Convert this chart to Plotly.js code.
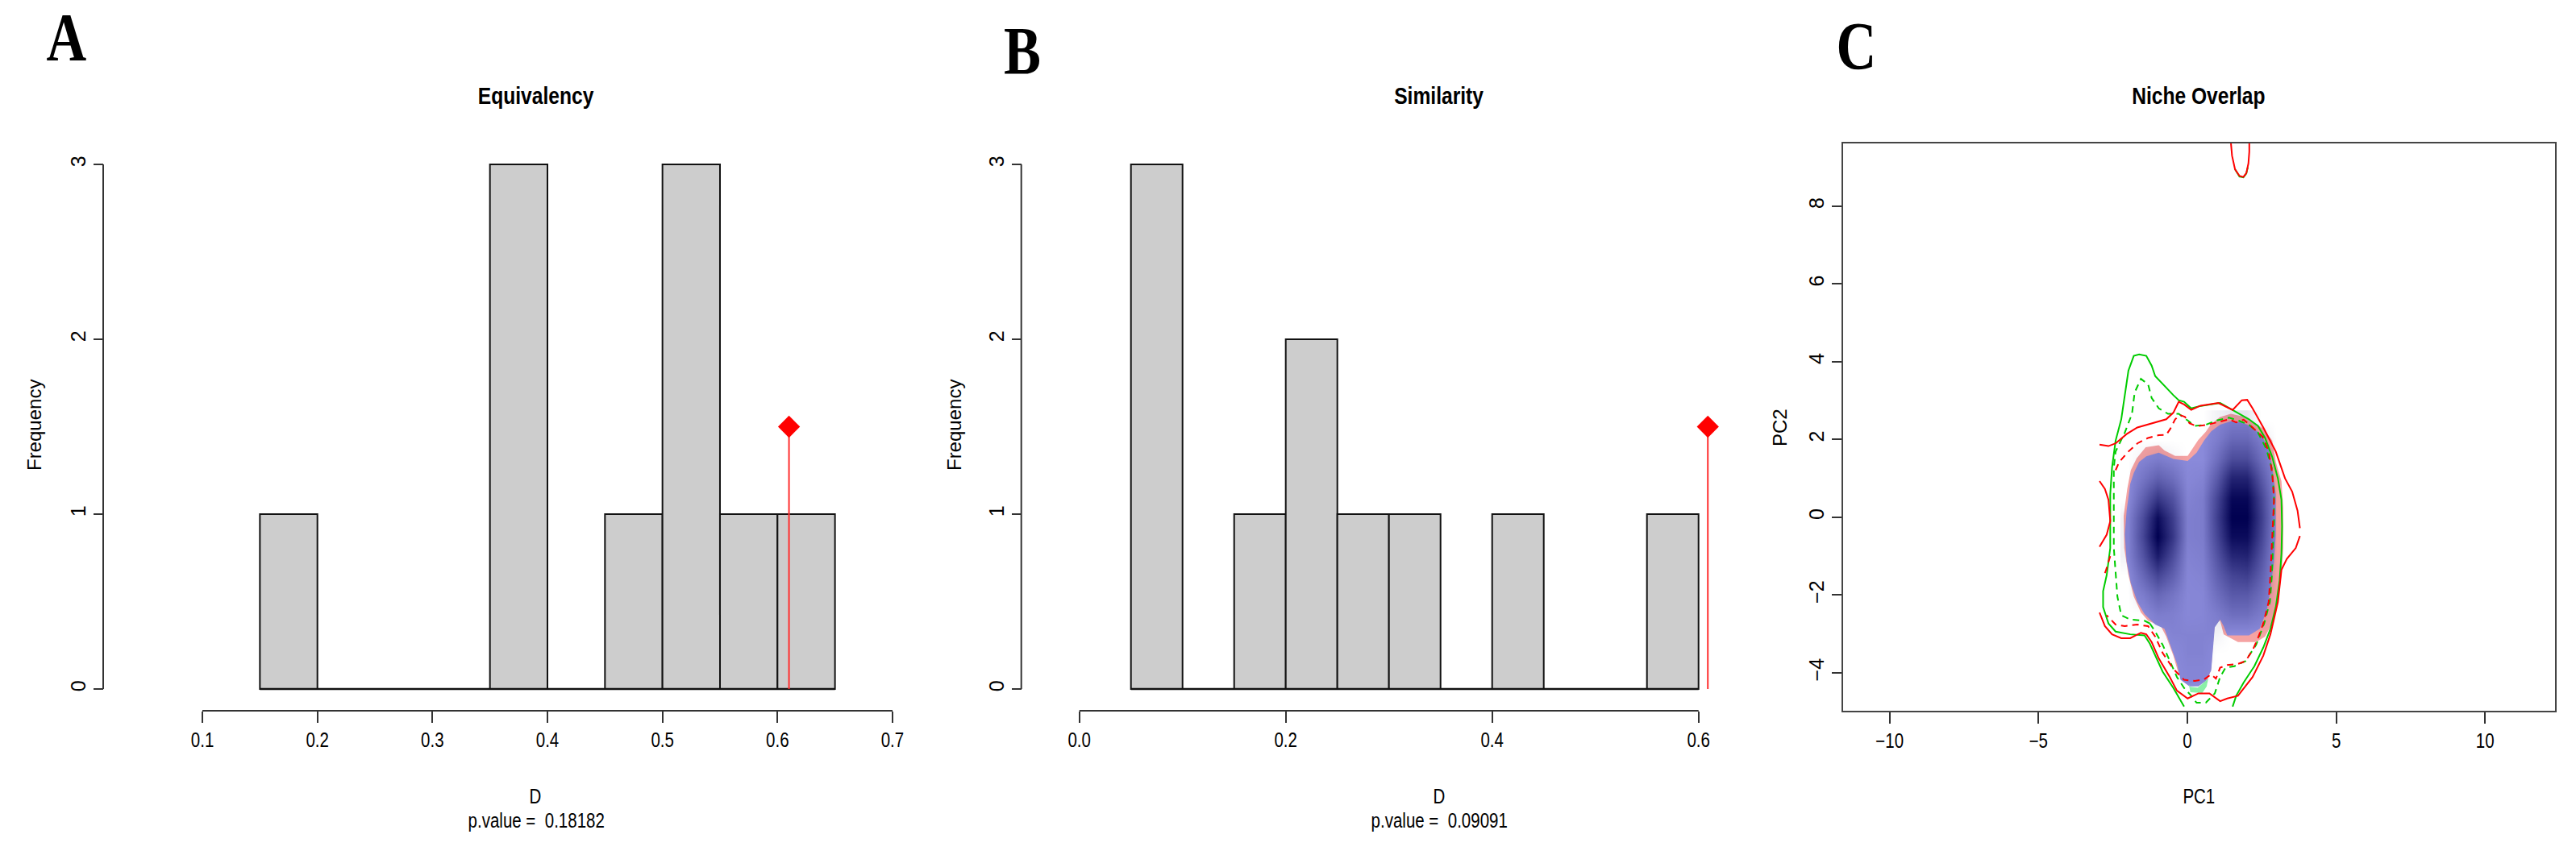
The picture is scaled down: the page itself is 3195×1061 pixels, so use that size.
<!DOCTYPE html>
<html>
<head>
<meta charset="utf-8">
<script src="https://cdn.plot.ly/plotly-3.0.1.min.js"></script>
<style>html,body{margin:0;padding:0;background:#fff;}#chart{width:3195px;height:1061px;}</style>
</head>
<body>
<div id="chart"></div>
<script>
// ---------- DATA ----------
// Panel A: Equivalency histogram
const eqBreaks = [0.15, 0.20, 0.25, 0.30, 0.35, 0.40, 0.45, 0.50, 0.55, 0.60, 0.65];
const eqCounts = [1, 0, 0, 0, 3, 0, 1, 3, 1, 1];
const eqObserved = 0.610;
const eqPValue = "0.18182";
const eqTicks = [0.1, 0.2, 0.3, 0.4, 0.5, 0.6, 0.7];
const eqTickText = ["0.1", "0.2", "0.3", "0.4", "0.5", "0.6", "0.7"];

// Panel B: Similarity histogram
const simBreaks = [0.05, 0.10, 0.15, 0.20, 0.25, 0.30, 0.35, 0.40, 0.45, 0.50, 0.55, 0.60];
const simCounts = [3, 0, 1, 2, 1, 1, 0, 1, 0, 0, 1];
const simObserved = 0.609;
const simPValue = "0.09091";
const simTicks = [0.0, 0.2, 0.4, 0.6];
const simTickText = ["0.0", "0.2", "0.4", "0.6"];

const freqTicks = [0, 1, 2, 3];
const freqTickText = ["0", "1", "2", "3"];
const markerHeight = 1.5;

// Panel C: Niche overlap (PC1 / PC2)
const pc1Ticks = [-10, -5, 0, 5, 10];
const pc1TickText = ["\u221210", "\u22125", "0", "5", "10"];
const pc2Ticks = [-4, -2, 0, 2, 4, 6, 8];
const pc2TickText = ["\u22124", "\u22122", "0", "2", "4", "6", "8"];

// expansion (pink) outer outline
const pinkX = [1.46,1.83,2.19,2.55,2.85,2.97,3.16,3.22,3.22,3.16,3.04,2.85,2.61,2.31,1.70,1.22,1.10,0.92,0.86,0.80,0.68,0.40,0.05,-0.29,-0.47,-0.71,-0.89,-1.32,-1.56,-1.80,-1.98,-2.12,-2.14,-2.02,-1.90,-1.70,-1.40,-0.96,-0.77,-0.41,0.01,0.19,0.37,0.62,0.80,1.10];
const pinkY = [2.66,2.60,2.45,2.28,1.97,1.42,0.93,0.24,-0.79,-1.49,-2.18,-2.73,-3.07,-3.21,-3.21,-3.01,-2.66,-2.73,-3.28,-3.90,-4.18,-4.30,-4.30,-4.04,-3.56,-3.07,-2.80,-2.66,-2.45,-2.04,-1.49,-0.79,0.03,0.73,1.21,1.52,1.80,1.85,1.72,1.58,1.58,1.78,1.99,2.20,2.40,2.58];
// stability (blue) outline
const blueX = [1.58,1.83,2.19,2.49,2.73,2.85,2.97,2.97,2.91,2.79,2.67,2.43,2.07,1.34,1.22,1.10,0.92,0.86,0.80,0.62,0.37,0.07,-0.23,-0.35,-0.59,-0.77,-1.08,-1.44,-1.68,-1.90,-2.04,-2.10,-2.04,-1.92,-1.80,-1.62,-1.38,-0.96,-0.47,0.01,0.31,0.56,0.80,1.10,1.46];
const blueY = [2.45,2.45,2.31,2.11,1.76,1.28,0.59,-0.45,-1.14,-1.84,-2.39,-2.87,-3.04,-3.04,-2.80,-2.63,-2.83,-3.42,-3.94,-4.21,-4.35,-4.35,-4.18,-3.77,-3.28,-2.87,-2.76,-2.49,-2.18,-1.69,-1.14,-0.45,0.17,0.86,1.14,1.42,1.57,1.66,1.50,1.45,1.66,1.97,2.21,2.38,2.47];
// unfilling (green) patch
const greenX = [0.05,0.10,0.50,0.65,0.70,0.55,0.35,0.10];
const greenY = [-4.30,-4.50,-4.52,-4.35,-4.15,-4.25,-4.38,-4.36];

// occurrence density (darkness 0..1) on a 0.5-unit grid
const densX = [-2.0,-1.5,-1.0,-0.5,0.0,0.5,1.0,1.5,2.0,2.5,3.0];
const densY = [-4.0,-3.5,-3.0,-2.5,-2.0,-1.5,-1.0,-0.5,0.0,0.5,1.0,1.5,2.0,2.5];
const densZ = [
  [0,0,0,0,0.03,0.03,0,0,0,0,0],
  [0,0,0,0,0.05,0.05,0,0,0,0,0],
  [0,0,0,0.05,0.05,0.05,0.05,0,0,0,0],
  [0,0,0.10,0.08,0.02,0.03,0.10,0.20,0.20,0.10,0],
  [0,0.10,0.25,0.15,0.02,0.03,0.20,0.35,0.35,0.20,0],
  [0,0.25,0.50,0.30,0.03,0.05,0.30,0.50,0.55,0.30,0],
  [0.05,0.40,0.80,0.45,0.05,0.08,0.40,0.72,0.75,0.40,0],
  [0.05,0.50,1.00,0.60,0.08,0.10,0.50,0.92,0.92,0.50,0],
  [0.05,0.45,0.92,0.55,0.08,0.10,0.55,1.00,1.00,0.55,0],
  [0,0.30,0.60,0.40,0.05,0.10,0.50,0.95,0.95,0.50,0],
  [0,0.15,0.30,0.20,0.02,0.05,0.35,0.75,0.75,0.35,0],
  [0,0.05,0.10,0.05,0,0,0.20,0.45,0.45,0.20,0],
  [0,0,0,0,0,0,0.10,0.25,0.25,0.10,0],
  [0,0,0,0,0,0,0.05,0.10,0.10,0,0]
];

// species 1 (green) contours
const g1SolidX = [-0.11,-0.47,-0.83,-1.08,-1.26,-1.44,-1.92,-2.41,-2.65,-2.83,-2.83,-2.71,-2.59,-2.59,-2.59,-2.53,-2.41,-2.22,-2.10,-1.98,-1.80,-1.62,-1.38,-1.20,-1.08,-0.83,-0.47,-0.29,-0.11,0.13,0.37,1.10,1.52,1.70,2.07,2.37,2.61,2.85,3.04,3.16,3.18,3.16,3.10,2.97,2.79,2.55,2.25,1.89,1.64,1.52];
const g1SolidY = [-4.87,-4.39,-3.97,-3.56,-3.25,-3.04,-3.01,-2.94,-2.73,-2.31,-1.90,-1.49,-0.79,-0.10,0.59,1.28,1.97,2.52,3.14,3.77,4.15,4.19,4.15,3.90,3.63,3.42,3.14,3.01,2.97,2.80,2.85,2.94,2.76,2.69,2.52,2.35,2.04,1.55,1.00,0.45,-0.24,-0.93,-1.62,-2.31,-2.87,-3.35,-3.83,-4.25,-4.59,-4.87];
const g1DashX = [-1.26,-1.44,-1.92,-2.22,-2.35,-2.41,-2.47,-2.47,-2.47,-2.47,-2.41,-2.10,-1.86,-1.77,-1.56,-1.32,-1.20,-0.96,-0.65,-0.29,0.01,0.25,0.62,0.98,1.40,1.70,2.07,2.37,2.65,2.83,2.91,2.91,2.87,2.84,2.77,2.58,2.31,1.95,1.58,1.28,1.10,0.92,0.62,0.31,0.13,-0.11,-0.35,-0.59,-0.83,-1.08,-1.26];
const g1DashY = [-2.73,-2.66,-2.63,-2.52,-2.04,-1.49,-0.79,-0.10,0.59,1.28,1.69,2.18,2.66,3.21,3.56,3.42,3.07,2.80,2.66,2.66,2.49,2.35,2.38,2.49,2.56,2.49,2.38,2.18,1.76,1.28,0.59,-0.10,-0.79,-1.49,-2.18,-2.73,-3.28,-3.70,-3.83,-3.87,-4.11,-4.53,-4.77,-4.77,-4.59,-4.39,-4.11,-3.70,-3.28,-2.94,-2.73];
const g1TopX = [1.60,1.75,1.88,1.98,2.03];
const g1TopY = [8.95,8.76,8.74,8.84,9.00];

// species 2 (red) contours (null separates pieces)
const r2SolidX = [-2.95,-2.65,-2.41,-2.04,-1.68,-1.08,-0.71,-0.47,-0.29,-0.11,0.13,0.44,1.04,1.52,1.83,2.01,2.19,2.55,2.97,3.28,3.52,3.70,3.78,null,
  -2.95,-2.77,-2.65,-2.59,-2.71,-2.95,null,
  -2.95,-2.77,-2.53,-2.22,-1.92,-1.56,-1.38,-1.20,-0.96,-0.59,-0.35,0.01,0.37,0.74,1.10,1.34,1.70,2.19,2.55,2.79,3.04,3.16,3.34,3.64,3.78,null,
  1.46,1.50,1.60,1.75,1.88,1.98,2.05,2.08,2.08];
const r2SolidY = [1.87,1.83,1.90,2.14,2.31,2.45,2.52,2.69,2.97,2.90,2.76,2.87,2.94,2.76,3.01,3.02,2.80,2.31,1.69,1.00,0.66,0.17,-0.28,null,
  0.93,0.73,0.45,-0.10,-0.45,-0.76,null,
  -2.45,-2.80,-3.01,-3.11,-3.11,-2.97,-3.01,-3.21,-3.63,-4.11,-4.46,-4.66,-4.53,-4.53,-4.73,-4.66,-4.59,-4.11,-3.56,-3.01,-2.18,-1.35,-1.07,-0.79,-0.48,null,
  9.65,9.30,8.95,8.78,8.75,8.85,9.10,9.40,9.65];
const r2DashX = [-2.41,-2.29,-1.98,-1.68,-1.32,-0.96,-0.71,-0.57,-0.41,-0.25,-0.08,0.07,0.31,0.68,1.04,1.40,1.64,1.89,2.19,2.53,2.73,2.85,2.91,2.87,2.81,2.79,2.73,2.55,2.37,2.19,1.95,1.70,1.34,1.10,0.96,0.80,0.56,0.25,-0.11,-0.47,-0.83,-1.08,-1.32,-1.68,-2.10,-2.41,-2.71,null,
  -2.59,-2.74,-2.83];
const r2DashY = [1.21,1.42,1.69,1.90,2.04,2.11,2.12,2.28,2.52,2.63,2.58,2.42,2.34,2.38,2.45,2.52,2.44,2.51,2.31,2.07,1.69,1.14,0.45,-0.24,-0.93,-1.49,-2.18,-2.73,-3.11,-3.42,-3.70,-3.77,-3.80,-3.87,-4.15,-4.04,-4.17,-4.21,-4.18,-3.90,-3.49,-3.07,-2.80,-2.76,-2.80,-2.76,-2.52,null,
  -1.00,-1.38,-1.55];

// ---------- LAYOUT HELPERS ----------
const W = 3195, H = 1061;
const px = v => v / W;
const py = v => 1 - v / H;
// horizontal texts are drawn with this stack and then condensed (reference text is narrow)
const narrow = "Liberation Sans Narrow, Liberation Sans, Arial, sans-serif";
const sans = "Liberation Sans, Arial, sans-serif";
const serifN = "Liberation Serif Narrow, Liberation Serif, Times New Roman, serif";
const axisCol = "#333333";
const condense = 0.82;

function mids(b) { const m = []; for (let i = 0; i < b.length - 1; i++) m.push((b[i] + b[i + 1]) / 2); return m; }
function widths(b) { const w = []; for (let i = 0; i < b.length - 1; i++) w.push(b[i + 1] - b[i]); return w; }

function histTraces(breaks, counts, obs, xa, ya) {
  return [
    { type: "bar", x: mids(breaks), y: counts, width: widths(breaks), xaxis: xa, yaxis: ya,
      marker: { color: "#cdcdcd", line: { color: "#111", width: 2 } }, hoverinfo: "x+y" },
    { type: "scatter", mode: "lines", x: [breaks[0], breaks[breaks.length - 1]], y: [0, 0], xaxis: xa, yaxis: ya,
      line: { color: "#111", width: 2.5 }, hoverinfo: "skip" },
    { type: "scatter", mode: "lines", x: [obs, obs], y: [0, markerHeight], xaxis: xa, yaxis: ya,
      line: { color: "#ff3030", width: 2 }, hoverinfo: "skip" },
    { type: "scatter", mode: "markers", x: [obs], y: [markerHeight], xaxis: xa, yaxis: ya,
      marker: { symbol: "diamond", size: 21, color: "#ff0000", line: { width: 0 } } }
  ];
}

const traces = [
  ...histTraces(eqBreaks, eqCounts, eqObserved, "x", "y"),
  ...histTraces(simBreaks, simCounts, simObserved, "x2", "y2"),
  // Panel C base layers
  { type: "scatter", mode: "lines", x: pinkX, y: pinkY, fill: "toself", fillcolor: "#f5a3a3",
    line: { width: 0, color: "#f5a3a3" }, xaxis: "x3", yaxis: "y3", hoverinfo: "skip" },
  { type: "scatter", mode: "lines", x: blueX, y: blueY, fill: "toself", fillcolor: "#8a8ada",
    line: { width: 0, color: "#8a8ada" }, xaxis: "x3", yaxis: "y3", hoverinfo: "skip" },
  { type: "scatter", mode: "lines", x: greenX, y: greenY, fill: "toself", fillcolor: "#8af0a8",
    line: { width: 0, color: "#8af0a8" }, xaxis: "x3", yaxis: "y3", hoverinfo: "skip" },
  // overlay: density shading and contours
  { type: "heatmap", x: densX, y: densY, z: densZ, zsmooth: "best", zmin: 0, zmax: 1,
    colorscale: [[0, "rgba(0,0,80,0)"], [1, "rgba(0,0,80,1)"]], showscale: false,
    xaxis: "x4", yaxis: "y4", hoverinfo: "skip" },
  { type: "scatter", mode: "lines", x: g1SolidX, y: g1SolidY, line: { color: "#00cc00", width: 2 }, xaxis: "x4", yaxis: "y4", hoverinfo: "skip" },
  { type: "scatter", mode: "lines", x: g1TopX, y: g1TopY, line: { color: "#00cc00", width: 2 }, xaxis: "x4", yaxis: "y4", hoverinfo: "skip" },
  { type: "scatter", mode: "lines", x: g1DashX, y: g1DashY, line: { color: "#00cc00", width: 2, dash: "8px,6px" }, xaxis: "x4", yaxis: "y4", hoverinfo: "skip" },
  { type: "scatter", mode: "lines", x: r2SolidX, y: r2SolidY, connectgaps: false, line: { color: "#ff0000", width: 2 }, xaxis: "x4", yaxis: "y4", hoverinfo: "skip" },
  { type: "scatter", mode: "lines", x: r2DashX, y: r2DashY, connectgaps: false, line: { color: "#ff0000", width: 2, dash: "8px,6px" }, xaxis: "x4", yaxis: "y4", hoverinfo: "skip" }
];

// ---------- AXES ----------
const histY = {
  range: [-0.03, 3.03], domain: [py(861.5), py(197.5)], anchor: "free",
  tickvals: freqTicks, ticktext: freqTickText, ticks: "outside", ticklen: 12, tickwidth: 2, tickcolor: axisCol,
  tickangle: -90, tickfont: { family: sans, size: 25, color: "#000" },
  showline: false, showgrid: false, zeroline: false, fixedrange: true
};
const histX = {
  anchor: "free", position: py(882), ticks: "outside", ticklen: 14, tickwidth: 2, tickcolor: axisCol,
  tickfont: { family: narrow, size: 25, color: "#000" }, showline: false, showgrid: false, zeroline: false, fixedrange: true
};
const cRangeX = [-11.57, 12.34], cRangeY = [-4.97, 9.62];

const layout = {
  width: W, height: H, margin: { l: 0, r: 0, t: 0, b: 0 },
  paper_bgcolor: "#ffffff", plot_bgcolor: "rgba(0,0,0,0)", showlegend: false,
  bargap: 0,
  xaxis: Object.assign({}, histX, { domain: [px(222.5), px(1135.5)], range: [0.08, 0.72], tickvals: eqTicks, ticktext: eqTickText }),
  yaxis: Object.assign({}, histY, { position: px(128) }),
  xaxis2: Object.assign({}, histX, { domain: [px(1313.1), px(2157.9)], range: [-0.02, 0.64], tickvals: simTicks, ticktext: simTickText }),
  yaxis2: Object.assign({}, histY, { position: px(1266.7) }),
  xaxis3: {
    domain: [px(2285.7), px(3168.7)], range: cRangeX, anchor: "y3",
    showline: true, mirror: true, linecolor: "#444", linewidth: 2,
    ticks: "outside", ticklen: 14, tickwidth: 2, tickcolor: axisCol,
    tickvals: pc1Ticks, ticktext: pc1TickText, tickfont: { family: narrow, size: 25, color: "#000" },
    showgrid: false, zeroline: false, fixedrange: true
  },
  yaxis3: {
    domain: [py(881.7), py(177.7)], range: cRangeY, anchor: "x3",
    showline: true, mirror: true, linecolor: "#444", linewidth: 2,
    ticks: "outside", ticklen: 12, tickwidth: 2, tickcolor: axisCol, tickangle: -90,
    tickvals: pc2Ticks, ticktext: pc2TickText, tickfont: { family: sans, size: 25, color: "#000" },
    showgrid: false, zeroline: false, fixedrange: true
  },
  xaxis4: { overlaying: "x3", range: cRangeX, anchor: "y4", visible: false, fixedrange: true },
  yaxis4: { overlaying: "y3", range: cRangeY, anchor: "x4", visible: false, fixedrange: true },
  shapes: [
    { type: "line", xref: "paper", yref: "y", x0: px(128), x1: px(128), y0: 0, y1: 3, line: { color: axisCol, width: 2 } },
    { type: "line", xref: "x", yref: "paper", x0: eqTicks[0], x1: eqTicks[eqTicks.length - 1], y0: py(882), y1: py(882), line: { color: axisCol, width: 2 } },
    { type: "line", xref: "paper", yref: "y2", x0: px(1266.7), x1: px(1266.7), y0: 0, y1: 3, line: { color: axisCol, width: 2 } },
    { type: "line", xref: "x2", yref: "paper", x0: simTicks[0], x1: simTicks[simTicks.length - 1], y0: py(882), y1: py(882), line: { color: axisCol, width: 2 } }
  ],
  annotations: []
};

function txt(text, x, y, size, family, opts) {
  layout.annotations.push(Object.assign({
    text: text, x: px(x), y: py(y), xref: "paper", yref: "paper", showarrow: false,
    xanchor: "center", yanchor: "middle", font: { family: family, size: size, color: "#000" }
  }, opts || {}));
}
// panel letters
txt("<b>A</b>", 82, 47, 84, serifN);
txt("<b>B</b>", 1268, 64, 84, serifN);
txt("<b>C</b>", 2302, 57, 84, serifN);
// titles
txt("<b>Equivalency</b>", 664, 118, 30, narrow);
txt("<b>Similarity</b>", 1785, 118, 30, narrow);
txt("<b>Niche Overlap</b>", 2727, 118, 30, narrow);
// axis titles
txt("Frequency", 42, 528, 24, sans, { textangle: -90 });
txt("Frequency", 1183, 528, 24, sans, { textangle: -90 });
txt("PC2", 2207, 531, 24, sans, { textangle: -90 });
txt("D", 664, 988, 25, narrow);
txt("D", 1785, 988, 25, narrow);
txt("PC1", 2727, 988, 25, narrow);
txt("p.value =\u00a0 " + eqPValue, 665, 1018, 25, narrow);
txt("p.value =\u00a0 " + simPValue, 1785, 1018, 25, narrow);

// condense horizontal text about its own centre (reference typography is narrow)
function condenseText(gd) {
  gd.querySelectorAll("text").forEach(t => {
    const st = (t.getAttribute("style") || "") + (t.style ? t.style.fontFamily : "");
    if (st.indexOf("Narrow") < 0) return;
    let bb;
    try { bb = t.getBBox(); } catch (e) { return; }
    const cx = bb.x + bb.width / 2;
    const prev = t.getAttribute("transform") || "";
    t.setAttribute("transform", (prev + " translate(" + cx + ",0) scale(" + condense + ",1) translate(" + (-cx) + ",0)").trim());
  });
}

const gd = document.getElementById("chart");
Plotly.newPlot(gd, traces, layout, { staticPlot: true, displayModeBar: false }).then(condenseText);
</script>
</body>
</html>
